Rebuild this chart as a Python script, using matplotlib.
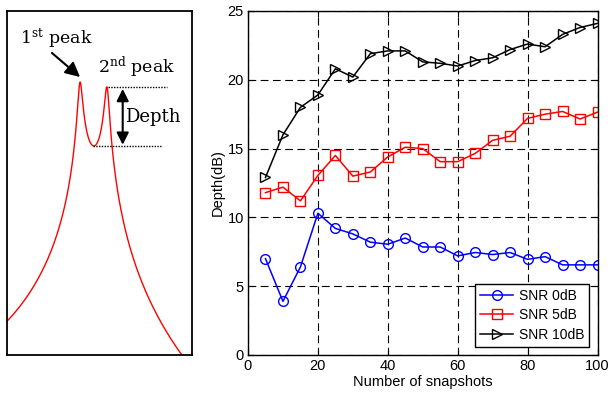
import numpy as np
import matplotlib.pyplot as plt

# depth between the two spectral peaks vs. number of snapshots
snapshots = [5, 10, 15, 20, 25, 30, 35, 40, 45, 50,
             55, 60, 65, 70, 75, 80, 85, 90, 95, 100]
depth_snr0 = [7.0, 3.9, 6.4, 10.3, 9.2, 8.8, 8.2, 8.05, 8.5, 7.85,
              7.85, 7.2, 7.45, 7.3, 7.45, 6.95, 7.15, 6.55, 6.55, 6.55]
depth_snr5 = [11.8, 12.2, 11.2, 13.05, 14.5, 13.0, 13.3, 14.4, 15.1, 15.0,
              14.05, 14.05, 14.65, 15.6, 15.9, 17.2, 17.5, 17.7, 17.15, 17.65]
depth_snr10 = [12.9, 16.0, 18.0, 18.9, 20.8, 20.2, 21.9, 22.1, 22.1, 21.3,
               21.2, 21.0, 21.4, 21.6, 22.2, 22.6, 22.4, 23.3, 23.8, 24.1]
legend_labels = ['SNR 0dB', 'SNR 5dB', 'SNR 10dB']

# sketch spectrum with two close peaks
peak_pos = [73, 100]
peak_width = 4.5
tilt = 0.03

plt.rcParams['mathtext.fontset'] = 'dejavuserif'

fig = plt.figure(figsize=(6.11, 3.94), dpi=100)

# ---- left: spectrum sketch ----
ax_l = fig.add_axes([7 / 611, 39 / 394, 185 / 611, 344 / 394])
x = np.linspace(0, 185, 2000)
spec = -10 * np.log10(((x - peak_pos[0]) ** 2 + peak_width) *
                      ((x - peak_pos[1]) ** 2 + peak_width)) - tilt * x
ax_l.plot(x, spec, color='red', lw=1.0)
ax_l.set_xlim(0, 185)
ax_l.set_ylim(-82.9, -25.5)
ax_l.set_xticks([])
ax_l.set_yticks([])
for s in ax_l.spines.values():
    s.set_linewidth(1.3)

# peak / valley levels
i2 = np.argmin(np.abs(x - peak_pos[1]))
iv = np.argmin(spec[(x > peak_pos[0]) & (x < peak_pos[1])]) + np.argmax(x > peak_pos[0])
top_lvl = spec[i2]
low_lvl = spec[iv]
ax_l.plot([peak_pos[1] + 1, 160], [top_lvl, top_lvl], color='k', ls=(0, (1, 1)), lw=1)
ax_l.plot([x[iv] - 1, 155], [low_lvl, low_lvl], color='k', ls=(0, (1, 1)), lw=1)
ax_l.annotate('', xy=(115.7, top_lvl - 0.3), xytext=(115.7, low_lvl + 0.2),
              arrowprops=dict(arrowstyle='<|-|>', color='k', lw=1.5,
                              mutation_scale=18, shrinkA=0, shrinkB=0))

serif = dict(family='DejaVu Serif', fontsize=12.5)
ax_l.text(0.07, 0.906, r'1$^{\rm st}$ peak', transform=ax_l.transAxes,
          ha='left', va='baseline', **serif)
ax_l.text(0.492, 0.82, r'2$^{\rm nd}$ peak', transform=ax_l.transAxes,
          ha='left', va='baseline', **serif)
ax_l.text(0.638, 0.678, 'Depth', transform=ax_l.transAxes,
          ha='left', va='baseline', family='DejaVu Serif', fontsize=13)
ax_l.annotate('', xy=(0.395, 0.808), xytext=(0.243, 0.878),
              xycoords='axes fraction', textcoords='axes fraction',
              arrowprops=dict(arrowstyle='-|>', color='k', lw=1.5,
                              mutation_scale=22, shrinkA=0, shrinkB=0))

# ---- right: depth vs snapshots ----
ax = fig.add_axes([248 / 611, 39 / 394, 349.5 / 611, 344 / 394])
sans = 'Liberation Sans'
ax.plot(snapshots, depth_snr0, '-o', color='blue', mfc='none', ms=7, mew=1,
        lw=1.1, label=legend_labels[0])
ax.plot(snapshots, depth_snr5, '-s', color='red', mfc='none', ms=7, mew=1,
        lw=1.1, label=legend_labels[1])
ax.plot(snapshots, depth_snr10, '->', color='black', mfc='none', ms=7.5, mew=1,
        lw=1.1, label=legend_labels[2])
ax.set_xlim(0, 100)
ax.set_ylim(0, 25)
ax.set_xticks(range(0, 101, 20))
ax.set_yticks(range(0, 26, 5))
ax.grid(True, color='k', ls=(0, (7, 4)), lw=0.8)
ax.tick_params(direction='in', length=4, top=True, right=True,
               labelsize=10.5, pad=3)
for lab in ax.get_xticklabels() + ax.get_yticklabels():
    lab.set_family(sans)
ax.set_xlabel('Number of snapshots', family=sans, fontsize=10.5, labelpad=1)
ax.set_ylabel('Depth(dB)', family=sans, fontsize=10.5, labelpad=2)
for s in ax.spines.values():
    s.set_linewidth(1.0)

leg = ax.legend(loc='lower right', prop={'family': sans, 'size': 10},
                fancybox=False, edgecolor='k', framealpha=1, numpoints=1,
                handlelength=2.4, borderaxespad=0.6, labelspacing=0.4,
                handletextpad=0.4, borderpad=0.35)
leg.get_frame().set_linewidth(1.0)

fig.savefig('out.png', dpi=100)
